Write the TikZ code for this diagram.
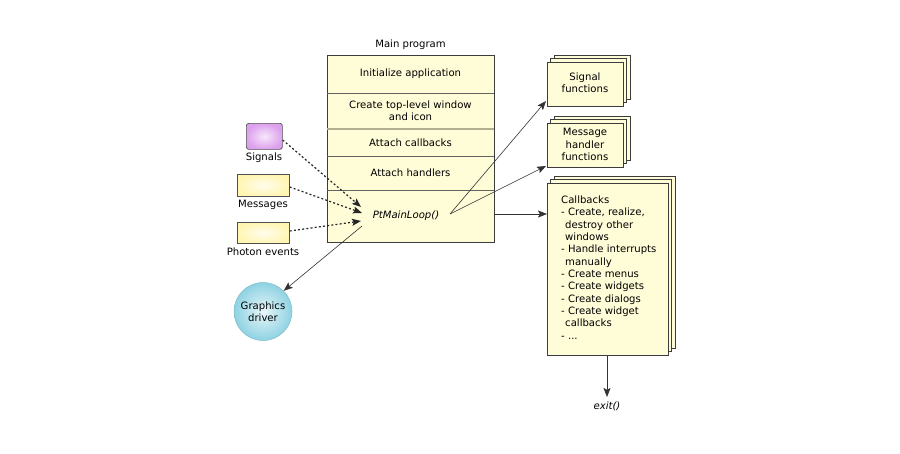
\documentclass[tikz,border=0pt]{standalone}
\usepackage{fontspec}
\setmainfont{DejaVu Sans}
\usetikzlibrary{arrows.meta}
\definecolor{cream}{HTML}{FFFCD8}
\definecolor{edge}{HTML}{3C3C3C}
\definecolor{lightdiv}{HTML}{B4AE90}
\definecolor{sigpurple}{HTML}{DDA0EE}
\definecolor{msgyellow}{HTML}{FFF6B4}
\definecolor{ballblue}{HTML}{8ED2E2}
\tikzset{
  txt/.style={font=\fontsize{10.1}{12.4}\selectfont, align=center, inner sep=0pt, text=black},
  box/.style={draw=edge, fill=cream, line width=0.7pt},
  divider/.style={draw=edge!80, line width=0.7pt},
  arr/.style={draw=black!80, line width=0.6pt, -{Stealth[length=9pt,width=7pt,inset=1.8pt]}},
  darr/.style={draw=black!85, line width=1.2pt, dash pattern=on 2pt off 2.2pt, -{Stealth[length=9pt,width=7pt,inset=1.8pt]}},
  src/.style={draw=edge!90, line width=0.7pt, inner sep=0pt, anchor=north west},
}
\begin{document}
\begin{tikzpicture}[x=1pt,y=-1pt]
\useasboundingbox[fill=white] (0,0) rectangle (900,453);

% main program box
\node[box, inner sep=0pt, minimum width=167pt, minimum height=187pt, anchor=north west] (main) at (327,55) {};
\node[txt] (mainlbl) at (410.5,45) {Main program};
\draw[divider] (327,93) -- (494,93);
\draw[draw=lightdiv, line width=1.2pt] (327,129) -- (494,129);
\draw[divider] (327,156) -- (494,156);
\draw[divider] (327,190) -- (494,190);
\node[txt] (init) at (410.5,74) {Initialize application};
\node[txt] (create) at (410.5,110.5) {Create top-level window\\and icon};
\node[txt] (attcb) at (410.5,143) {Attach callbacks};
\node[txt] (atth) at (410.5,173) {Attach handlers};
\node[txt, font=\fontsize{10.1}{12.4}\selectfont\itshape] (loop) at (406,216) {PtMainLoop()};

% sources
\node[src, rounded corners=2.5pt, minimum width=36pt, minimum height=26pt,
      inner color=sigpurple!25, outer color=sigpurple] (sig) at (246,123) {};
\node[txt] (siglbl) at (264,158) {Signals};
\node[src, minimum width=52pt, minimum height=22pt, inner color=msgyellow!25, outer color=msgyellow] (msg) at (237,174) {};
\node[txt] (msglbl) at (263,205) {Messages};
\node[src, minimum width=52pt, minimum height=21pt, inner color=msgyellow!25, outer color=msgyellow] (pho) at (237,222) {};
\node[txt] (pholbl) at (263,252) {Photon events};

% graphics driver
\node[circle, draw=ballblue!90!black, line width=0.5pt, minimum size=58pt, inner sep=0pt,
      inner color=white!80!ballblue, outer color=ballblue] (gd) at (263,311.5) {};
\node[txt] (gdlbl) at (263,311.5) {Graphics\\driver};

% stacks
\foreach \dx in {7,3.5} {
  \draw[box] (547+\dx,62-\dx) rectangle (623+\dx,106-\dx);
  \draw[box] (547+\dx,123-\dx) rectangle (623+\dx,167-\dx);
  \draw[box] (547+\dx,183-\dx) rectangle (668+\dx,355-\dx);
}
\node[box, inner sep=0pt, minimum width=76pt, minimum height=44pt, anchor=north west] (sigf) at (547,62) {};
\node[txt] (sigftxt) at (585,83) {Signal\\functions};
\node[box, inner sep=0pt, minimum width=76pt, minimum height=44pt, anchor=north west] (msgf) at (547,123) {};
\node[txt] (msgftxt) at (585,144.5) {Message\\handler\\functions};
\node[box, inner sep=0pt, minimum width=121pt, minimum height=172pt, anchor=north west] (cb) at (547,183) {};
\node[txt, align=left, anchor=north west, font=\fontsize{10.1}{12.35}\selectfont] (cbtxt) at (561,195.5) {%
Callbacks\\
- Create, realize,\\
\hspace{4pt}destroy other\\
\hspace{4pt}windows\\
- Handle interrupts\\
\hspace{4pt}manually\\
- Create menus\\
- Create widgets\\
- Create dialogs\\
- Create widget\\
\hspace{4pt}callbacks\\
- ...};

\node[txt, font=\fontsize{10.1}{12.4}\selectfont\itshape] (exit) at (607,406) {exit()};

% connectors
\coordinate (loopE) at (450,214);
\coordinate (sigfin) at (546,101);
\coordinate (msgfin) at (546,166);
\draw[arr] (loopE) -- (sigfin);
\draw[arr] (loopE) -- (msgfin);
\draw[arr] (main.east |- 0,214) -- (cb.west |- 0,214);
\draw[arr] (cb.south -| 607,0) -- (607,397);
\coordinate (gdstart) at (362,226);
\draw[arr] (gdstart) -- (gd.45);

\coordinate (dt1) at (361,207);
\coordinate (dt2) at (362,213);
\coordinate (dt3) at (361,221);
\draw[darr] (sig.east |- 0,140) -- (dt1);
\draw[darr] (msg.east |- 0,187) -- (dt2);
\draw[darr] (pho.east |- 0,231) -- (dt3);
\end{tikzpicture}
\end{document}
